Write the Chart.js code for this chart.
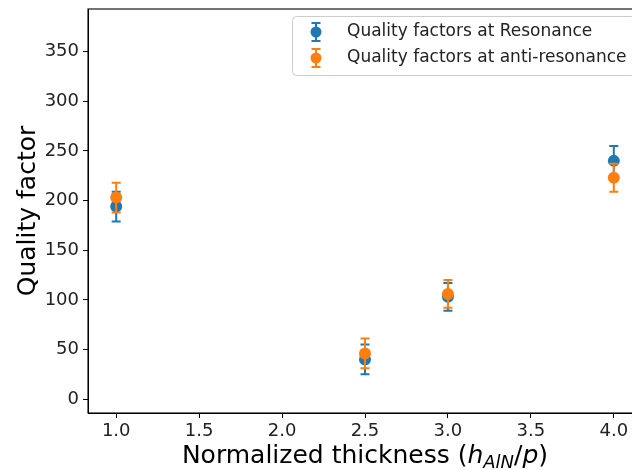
<!DOCTYPE html>
<html>
<head>
<meta charset="utf-8">
<script src="https://cdn.jsdelivr.net/npm/chart.js@4"></script>
<style>
  html, body { margin: 0; padding: 0; background: #fff; overflow: hidden; }
</style>
</head>
<body>
<canvas id="qChart" width="660" height="470"></canvas>
<script>
// Data
const xValues = [1.0, 2.5, 3.0, 4.0];
const resonanceQ = [194, 40, 103, 240];
const resonanceErr = [15, 15, 14, 15];
const antiResonanceQ = [203, 46, 106, 223];
const antiResonanceErr = [15, 15, 14, 14];
const xTicks = [1.0, 1.5, 2.0, 2.5, 3.0, 3.5, 4.0];
const yTicks = [0, 50, 100, 150, 200, 250, 300, 350];

const FONT = 'DejaVu Sans';
const BLUE = '#1f77b4';
const ORANGE = '#ff7f0e';

Chart.defaults.font.family = FONT;
Chart.defaults.color = '#222';

const toPoints = (ys) => xValues.map((x, i) => ({x: x, y: ys[i]}));

// Error bars, drawn just before each dataset's points
const errorBars = {
  id: 'errorBars',
  beforeDatasetDraw(chart, args) {
    const ds = chart.data.datasets[args.index];
    const xs = chart.scales.x, ys = chart.scales.y;
    const ctx = chart.ctx;
    ctx.save();
    ctx.strokeStyle = ds.borderColor;
    ctx.lineWidth = 2;
    ds.data.forEach((p, i) => {
      const px = xs.getPixelForValue(p.x);
      const top = ys.getPixelForValue(p.y + ds.errors[i]);
      const bot = ys.getPixelForValue(p.y - ds.errors[i]);
      ctx.beginPath();
      ctx.moveTo(px, top); ctx.lineTo(px, bot);
      ctx.moveTo(px - 4.5, top); ctx.lineTo(px + 4.5, top);
      ctx.moveTo(px - 4.5, bot); ctx.lineTo(px + 4.5, bot);
      ctx.stroke();
    });
    ctx.restore();
  }
};

// Box around the plot, legend and the x title with subscript
const decorations = {
  id: 'decorations',
  afterDraw(chart) {
    const ctx = chart.ctx;
    const a = chart.chartArea;
    ctx.save();
    ctx.strokeStyle = '#000';
    ctx.lineWidth = 1.1;
    ctx.strokeRect(a.left, a.top, a.right - a.left, a.bottom - a.top);

    // legend
    const lx = 292, ly = 16, lw = 343, lh = 59;
    ctx.beginPath();
    ctx.roundRect(lx + 0.5, ly + 0.5, lw, lh, 4);
    ctx.fillStyle = 'rgba(255,255,255,0.8)';
    ctx.fill();
    ctx.strokeStyle = '#cccccc';
    ctx.lineWidth = 1;
    ctx.stroke();
    chart.data.datasets.forEach((ds, row) => {
      const cy = ly + 16 + row * 26;
      const cx = 316;
      ctx.strokeStyle = ds.borderColor;
      ctx.lineWidth = 2;
      ctx.beginPath();
      ctx.moveTo(cx, cy - 9); ctx.lineTo(cx, cy + 9);
      ctx.moveTo(cx - 4.5, cy - 9); ctx.lineTo(cx + 4.5, cy - 9);
      ctx.moveTo(cx - 4.5, cy + 9); ctx.lineTo(cx + 4.5, cy + 9);
      ctx.stroke();
      ctx.beginPath();
      ctx.arc(cx, cy, 5.5, 0, Math.PI * 2);
      ctx.fillStyle = ds.backgroundColor;
      ctx.fill();
      ctx.fillStyle = '#222';
      ctx.font = '17px "' + FONT + '"';
      ctx.textBaseline = 'middle';
      ctx.textAlign = 'left';
      ctx.fillText(ds.label, 347, cy);
    });

    // x axis title: Normalized thickness (h_AlN/p)
    const size = 25;
    const parts = [
      {t: 'Normalized thickness (', f: size + 'px "' + FONT + '"', dy: 0},
      {t: 'h', f: 'italic ' + size + 'px "' + FONT + '"', dy: 0},
      {t: 'AlN', f: 'italic ' + Math.round(size * 0.7) + 'px "' + FONT + '"', dy: 5},
      {t: '/', f: size + 'px "' + FONT + '"', dy: 0},
      {t: 'p', f: 'italic ' + size + 'px "' + FONT + '"', dy: 0},
      {t: ')', f: size + 'px "' + FONT + '"', dy: 0}
    ];
    let total = 0;
    parts.forEach(p => { ctx.font = p.f; p.w = ctx.measureText(p.t).width; total += p.w; });
    let x = (a.left + a.right) / 2 - total / 2;
    const base = 463;
    ctx.fillStyle = '#000';
    ctx.textBaseline = 'alphabetic';
    parts.forEach(p => {
      ctx.font = p.f;
      ctx.fillText(p.t, x, base + p.dy);
      x += p.w;
    });
    ctx.restore();
  }
};

const config = {
  type: 'scatter',
  data: {
    datasets: [
      {
        label: 'Quality factors at Resonance',
        data: toPoints(resonanceQ),
        errors: resonanceErr,
        borderColor: BLUE,
        backgroundColor: BLUE,
        pointRadius: 6,
        pointBorderWidth: 0,
        order: 2
      },
      {
        label: 'Quality factors at anti-resonance',
        data: toPoints(antiResonanceQ),
        errors: antiResonanceErr,
        borderColor: ORANGE,
        backgroundColor: ORANGE,
        pointRadius: 6,
        pointBorderWidth: 0,
        order: 1
      }
    ]
  },
  options: {
    responsive: false,
    animation: false,
    layout: {padding: {left: 0, top: 9, right: 18, bottom: 0}},
    scales: {
      x: {
        type: 'linear',
        min: 0.83,
        max: 4.17,
        afterBuildTicks: (scale) => { scale.ticks = xTicks.map(v => ({value: v})); },
        afterFit: (scale) => { scale.height = 57; scale.paddingLeft = 0; scale.paddingRight = 0; },
        grid: {display: true, drawOnChartArea: false, drawTicks: true, tickLength: 5, color: '#000', lineWidth: 1},
        border: {display: true, color: '#000', width: 1},
        ticks: {
          font: {size: 18},
          color: '#222',
          padding: 3,
          maxRotation: 0,
          callback: (v) => Number(v).toFixed(1)
        }
      },
      y: {
        min: -14,
        max: 393,
        afterBuildTicks: (scale) => { scale.ticks = yTicks.map(v => ({value: v})); },
        afterFit: (scale) => { scale.width = 88; scale.paddingTop = 0; scale.paddingBottom = 0; },
        grid: {display: true, drawOnChartArea: false, drawTicks: true, tickLength: 5, color: '#000', lineWidth: 1},
        border: {display: true, color: '#000', width: 1},
        ticks: {
          font: {size: 18},
          color: '#222',
          padding: 4,
          callback: (v) => v
        },
        title: {
          display: true,
          text: 'Quality factor',
          font: {size: 25},
          color: '#000',
          padding: {top: 13, bottom: 0}
        }
      }
    },
    plugins: {
      legend: {display: false},
      tooltip: {enabled: false}
    }
  },
  plugins: [errorBars, decorations]
};

const qChart = new Chart(document.getElementById('qChart'), config);
</script>
</body>
</html>
